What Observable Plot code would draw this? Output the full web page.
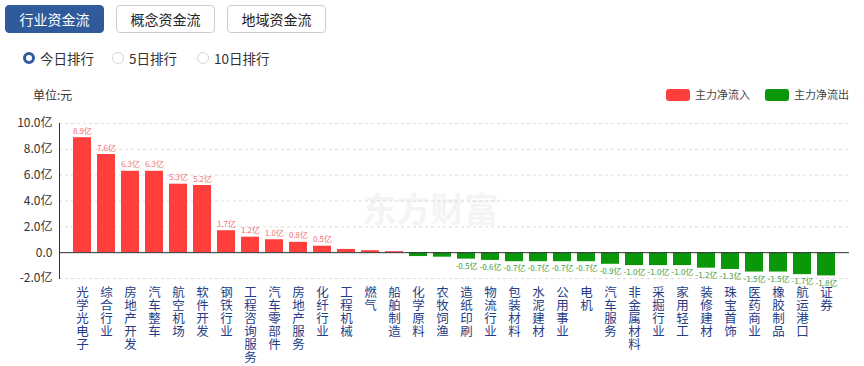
<!DOCTYPE html>
<html><head><meta charset="utf-8">
<script src="https://cdn.jsdelivr.net/npm/d3@7"></script>
<script src="https://cdn.jsdelivr.net/npm/@observablehq/plot@0.6"></script>
<style>
body{margin:0;background:#fff;font-family:"Noto Sans CJK SC","Noto Sans",sans-serif;}
#wrap{position:relative;width:864px;height:366px;overflow:hidden;}
.tab{position:absolute;top:5px;height:28px;width:99px;box-sizing:border-box;border:1px solid #c9cdd4;border-radius:4px;font-size:14px;line-height:26px;text-align:center;color:#222;background:#fff;}
.tab.on{background:#2f5b9d;border-color:#2f5b9d;color:#fff;}
.radio{position:absolute;top:48px;font-size:13.5px;color:#333;line-height:20px;}
.dot{position:absolute;left:-17px;top:4px;width:12px;height:12px;border-radius:50%;box-sizing:border-box;border:1px solid #cfd6e0;background:#fff;}
.dot.on{border:3.5px solid #2f5b9d;}
.unit{position:absolute;left:33px;top:86px;font-size:12px;color:#333;}
.leg{position:absolute;top:86px;font-size:11px;color:#444;line-height:17px;}
.sw{display:inline-block;width:24px;height:12px;border-radius:3px;vertical-align:-2px;margin-right:5px;}
#chart{position:absolute;left:0;top:0;}
</style></head><body>
<div id="wrap">
<div id="chart"></div>
<div class="tab on" style="left:5px">行业资金流</div>
<div class="tab" style="left:116px">概念资金流</div>
<div class="tab" style="left:227px">地域资金流</div>
<div class="radio" style="left:40px"><span class="dot on"></span>今日排行</div>
<div class="radio" style="left:129px"><span class="dot"></span>5日排行</div>
<div class="radio" style="left:214px"><span class="dot"></span>10日排行</div>
<div class="unit">单位:元</div>
<div class="leg" style="left:666px"><span class="sw" style="background:#ff3e3e"></span>主力净流入</div>
<div class="leg" style="left:765px"><span class="sw" style="background:#0a980a"></span>主力净流出</div>
</div>
<script>
const categories = ["光学光电子","综合行业","房地产开发","汽车整车","航空机场","软件开发","钢铁行业","工程咨询服务","汽车零部件","房地产服务","化纤行业","工程机械","燃气","船舶制造","化学原料","农牧饲渔","造纸印刷","物流行业","包装材料","水泥建材","公用事业","电机","汽车服务","非金属材料","采掘行业","家用轻工","装修建材","珠宝首饰","医药商业","橡胶制品","航运港口","证券"];
const values = [8.9,7.6,6.3,6.3,5.3,5.2,1.7,1.2,1.0,0.8,0.5,0.25,0.15,0.08,-0.3,-0.35,-0.5,-0.6,-0.7,-0.7,-0.7,-0.7,-0.9,-1.0,-1.0,-1.0,-1.2,-1.3,-1.5,-1.5,-1.7,-1.8];
const yTicks = [-2,0,2,4,6,8,10];

const data = categories.map((c,i)=>({name:c, v:values[i]}));
const labeled = data.filter(d=>Math.abs(d.v)>=0.5);
const fmt = v => v.toFixed(1)+"亿";

const chart = Plot.plot({
  width:864, height:366,
  marginTop:123, marginBottom:88, marginLeft:59, marginRight:15,
  style:{fontFamily:'"Noto Sans CJK SC","Noto Sans",sans-serif', background:"transparent"},
  x:{type:"band", domain:categories, padding:0.23, axis:null},
  y:{domain:[-2,10], axis:null},
  marks:[
    Plot.text(["东方财富"],{frameAnchor:"middle", dx:-24, dy:10, fontSize:34, fontWeight:"bold", fill:"#f4f4f4"}),
    Plot.gridY(yTicks,{stroke:"#dcdcdc", strokeOpacity:1, strokeDasharray:"3,3"}),
    Plot.barY(data,{x:"name", y:"v", fill:d=>d.v>=0?"#ff3e3e":"#0a980a"}),
    Plot.ruleY([0],{stroke:"#333", strokeWidth:1}),
    Plot.axisY(yTicks,{tickSize:0, tickPadding:7, fontSize:12, fill:"#333", label:null,
      tickFormat:d=>d===0?"0.0":d.toFixed(1)+"亿"}),
    Plot.frame({anchor:"left", stroke:"#333"}),
    Plot.text(labeled,{x:"name", y:"v", text:d=>fmt(d.v), fontSize:8,
      lineAnchor:"bottom", fill:"#f07070", filter:d=>d.v>0, dy:-4}),
    Plot.text(labeled,{x:"name", y:"v", text:d=>fmt(d.v), fontSize:8,
      lineAnchor:"top", fill:"#3c9c3c", filter:d=>d.v<0, dy:4}),
    Plot.axisX({tickSize:0, tickPadding:9, fontSize:12.5, fill:"#263d86", lineHeight:1.05, label:null,
      tickFormat:d=>d.split("").join("\n")})
  ]
});
document.getElementById("chart").appendChild(chart);
</script>
</body></html>
